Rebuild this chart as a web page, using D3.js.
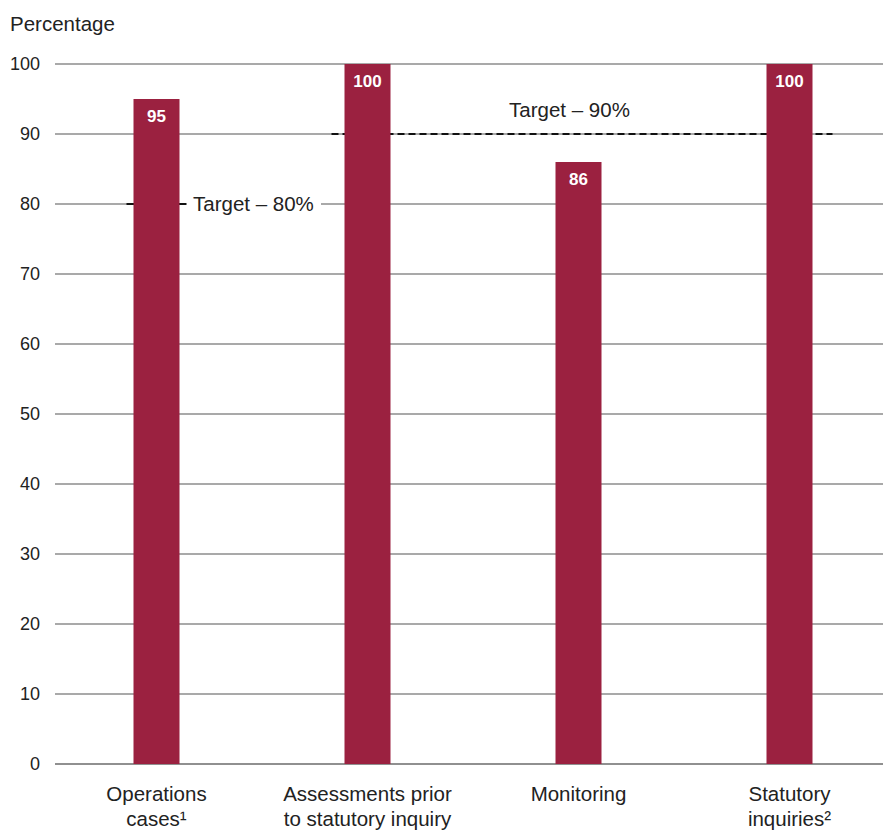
<!DOCTYPE html>
<html>
<head>
<meta charset="utf-8">
<script src="https://cdn.jsdelivr.net/npm/d3@7"></script>
<style>
  html, body { margin: 0; padding: 0; background: #fff; }
  svg text { font-family: "Liberation Sans", Arial, sans-serif; }
</style>
</head>
<body>
<svg id="chart" width="883" height="832"></svg>
<script>
// Share of cases meeting their timeliness target, by activity
const categories = [
  ["Operations", "cases\u00B9"],
  ["Assessments prior", "to statutory inquiry"],
  ["Monitoring"],
  ["Statutory", "inquiries\u00B2"]
];
const values = [95, 100, 86, 100];
const yTicks = [0, 10, 20, 30, 40, 50, 60, 70, 80, 90, 100];
const targets = [
  { value: 80, label: "Target \u2013 80%", from: 0, to: 0 },
  { value: 90, label: "Target \u2013 90%", from: 1, to: 3 }
];

const svg = d3.select("#chart");
const barColor = "#9b2140";
const textColor = "#222";

const x = d3.scaleBand().domain(d3.range(categories.length)).range([51, 895]);
const y = d3.scaleLinear().domain([0, 100]).range([764, 64]);
const barW = 46;
const gridLeft = 55, gridRight = 883;
const cx = i => x(i) + x.bandwidth() / 2;

// axis title
svg.append("text").attr("x", 10).attr("y", 31)
  .attr("font-size", 20.5).attr("fill", textColor).text("Percentage");

// gridlines and tick labels (the 80 line is broken around its target label)
const grid = svg.append("g");
yTicks.forEach(t => {
  const yy = y(t);
  if (t === 80) {
    grid.append("line").attr("x1", gridLeft).attr("x2", 128).attr("y1", yy).attr("y2", yy)
      .attr("stroke", "#555").attr("stroke-width", 1.2);
    grid.append("line").attr("x1", 321).attr("x2", gridRight).attr("y1", yy).attr("y2", yy)
      .attr("stroke", "#555").attr("stroke-width", 1.2);
  } else {
    grid.append("line").attr("x1", gridLeft).attr("x2", gridRight).attr("y1", yy).attr("y2", yy)
      .attr("stroke", t === 0 ? "#222" : "#555").attr("stroke-width", 1.2);
  }
  grid.append("text").attr("x", 40).attr("y", yy + 6).attr("text-anchor", "end")
    .attr("font-size", 18).attr("fill", textColor).text(t);
});

// target lines, dashed, spanning the bars they apply to
targets.forEach(tg => {
  const yy = y(tg.value);
  const x1 = cx(tg.from) - barW / 2 - 7;
  const x2 = cx(tg.to) + barW / 2 + 20;
  if (tg.from === tg.to) {
    svg.append("line").attr("x1", x1).attr("x2", x1 + barW + 14).attr("y1", yy).attr("y2", yy)
      .attr("stroke", "#111").attr("stroke-width", 2);
    svg.append("text").attr("x", 193).attr("y", yy + 7)
      .attr("font-size", 20.5).attr("fill", textColor).text(tg.label);
  } else {
    svg.append("line").attr("x1", x1 - 6).attr("x2", x2).attr("y1", yy).attr("y2", yy)
      .attr("stroke", "#111").attr("stroke-width", 2).attr("stroke-dasharray", "7,4");
    svg.append("text").attr("x", (cx(tg.from) + cx(tg.to)) / 2 - 9).attr("y", yy - 17)
      .attr("text-anchor", "middle").attr("font-size", 20.5).attr("fill", textColor).text(tg.label);
  }
});

// bars
const bars = svg.append("g");
values.forEach((v, i) => {
  bars.append("rect").attr("x", cx(i) - barW / 2).attr("y", y(v))
    .attr("width", barW).attr("height", y(0) - y(v)).attr("fill", barColor);
  bars.append("text").attr("x", cx(i)).attr("y", y(v) + 23).attr("text-anchor", "middle")
    .attr("font-size", 17).attr("font-weight", "bold").attr("fill", "#fff").text(v);
});

// category labels
categories.forEach((lines, i) => {
  const t = svg.append("text").attr("text-anchor", "middle")
    .attr("font-size", 20.5).attr("fill", textColor);
  lines.forEach((ln, j) => {
    t.append("tspan").attr("x", cx(i)).attr("y", 801 + j * 25).text(ln);
  });
});
</script>
</body>
</html>
